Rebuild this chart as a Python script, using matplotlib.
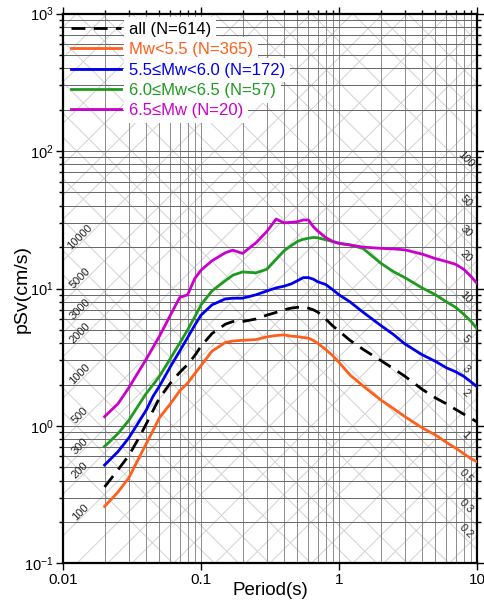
import numpy as np
import matplotlib
matplotlib.use("Agg")
import matplotlib.pyplot as plt
from matplotlib.ticker import LogLocator, NullFormatter, FixedLocator

plt.rcParams['font.family'] = ['Liberation Sans', 'DejaVu Sans']
plt.rcParams['mathtext.fontset'] = 'custom'
plt.rcParams['mathtext.rm'] = 'Liberation Sans'
plt.rcParams['mathtext.it'] = 'Liberation Sans:italic'

# ---------- Data ----------
periods = [0.02, 0.025, 0.03, 0.035, 0.04, 0.045, 0.05, 0.06, 0.07, 0.08, 0.09,
           0.1, 0.12, 0.15, 0.17, 0.2, 0.25, 0.3, 0.35, 0.4, 0.45, 0.5, 0.55,
           0.6, 0.65, 0.7, 0.8, 0.9, 1.0, 1.2, 1.5, 2, 2.5, 3, 4, 5, 6, 7, 8, 9, 10]

psv_all = [0.36, 0.48, 0.61, 0.8, 1.03, 1.3, 1.6, 2.05, 2.45, 2.8, 3.25,
           3.8, 4.7, 5.5, 5.75, 5.75, 6.0, 6.4, 6.7, 7.0, 7.2, 7.3, 7.3,
           7.2, 7.0, 6.75, 6.0, 5.35, 4.9, 4.2, 3.6, 3.0, 2.6, 2.3, 1.85, 1.6,
           1.45, 1.32, 1.22, 1.14, 1.07]
psv_m55 = [0.26, 0.33, 0.42, 0.57, 0.74, 0.93, 1.15, 1.45, 1.8, 2.05, 2.4,
           2.75, 3.5, 4.05, 4.15, 4.2, 4.25, 4.45, 4.55, 4.6, 4.5, 4.47, 4.4,
           4.35, 4.2, 4.0, 3.6, 3.25, 2.9, 2.35, 1.95, 1.55, 1.33, 1.17, 0.97,
           0.86, 0.76, 0.69, 0.63, 0.58, 0.55]
psv_m60 = [0.52, 0.65, 0.82, 1.05, 1.3, 1.65, 1.95, 2.7, 3.5, 4.4, 5.4,
           6.4, 7.6, 8.4, 8.5, 8.5, 9.0, 9.6, 10.1, 10.4, 10.8, 11.4, 12.0,
           12.0, 11.7, 11.2, 10.7, 9.8, 9.0, 8.0, 6.7, 5.4, 4.6, 3.95, 3.3,
           2.95, 2.65, 2.48, 2.3, 2.1, 1.93]
psv_m65 = [0.71, 0.88, 1.1, 1.4, 1.72, 2.0, 2.3, 3.1, 4.0, 5.0, 6.2,
           7.6, 9.6, 11.4, 12.5, 13.2, 13.0, 13.8, 16.3, 18.8, 20.5, 22.0, 22.8,
           23.2, 23.5, 23.4, 22.6, 22.0, 21.3, 20.8, 19.5, 15.3, 13.2, 12.0,
           10.1, 9.0, 8.0, 7.3, 6.5, 5.8, 5.1]
psv_big = [1.17, 1.45, 1.9, 2.45, 3.05, 3.75, 4.5, 6.4, 8.6, 9.0, 11.8,
           13.6, 15.9, 18.2, 19.0, 18.0, 21.5, 26.0, 32.0, 30.0, 30.3, 30.6, 31.5,
           31.5, 28.2, 26.2, 23.5, 22.0, 21.3, 20.7, 20.0, 19.6, 19.4, 19.1,
           17.8, 16.5, 15.7, 15.0, 13.8, 12.3, 10.9]

labels = ["all (N=614)", "Mw<5.5 (N=365)", "5.5\u2264Mw<6.0 (N=172)",
          "6.0\u2264Mw<6.5 (N=57)", "6.5\u2264Mw (N=20)"]
colors = ["black", "#ff5f1a", "#0000ee", "#1e9a1e", "#cc00cc"]

acc_labels = [100, 200, 300, 500, 1000, 2000, 3000, 5000, 10000]     # cm/s^2
disp_labels = [0.2, 0.3, 0.5, 1, 2, 3, 5, 10, 20, 30, 50, 100]       # cm
diag_steps = [1, 2, 3, 5]

# ---------- Figure ----------
fig = plt.figure(figsize=(4.84, 6.04), dpi=100)
ax = fig.add_axes([0.1302, 0.0671, 0.8554, 0.9105])
ax.set_xscale("log")
ax.set_yscale("log")
xmin, xmax, ymin, ymax = 0.01, 10, 0.1, 1000
ax.set_xlim(xmin, xmax)
ax.set_ylim(ymin, ymax)

# tripartite diagonals
tt = np.array([xmin, xmax])
for e in range(-3, 7):
    for k in diag_steps:
        val = k * 10.0 ** e
        ax.plot(tt, val * tt / (2 * np.pi), color="#d2d2d2", lw=0.7, zorder=0.4)
        ax.plot(tt, val * 2 * np.pi / tt, color="#d2d2d2", lw=0.7, zorder=0.4)

# grid
ax.grid(True, which="both", axis="x", color="#8c8c8c", lw=0.7, zorder=0.5)
ax.grid(True, which="both", axis="y", color="#666666", lw=0.7, zorder=0.5)
ax.set_axisbelow(True)

# diagonal labels
t_acc = 0.0133
for a in acc_labels:
    ax.text(t_acc, a * t_acc / (2 * np.pi) * 1.12, str(a), rotation=45,
            ha="center", va="center", fontsize=8, color="#222222", zorder=1)
t_disp = 8.3
for d in disp_labels:
    ax.text(t_disp, d * 2 * np.pi / t_disp * 1.14, f"{d:g}", rotation=-45,
            ha="center", va="center", fontsize=8, color="#222222", zorder=1)

# curves
series = [psv_all, psv_m55, psv_m60, psv_m65, psv_big]
for i, (vals, lab, col) in enumerate(zip(series, labels, colors)):
    if i == 0:
        ax.plot(periods, vals, color=col, lw=2.0, dashes=(5, 3), label=lab, zorder=3)
    else:
        ax.plot(periods, vals, color=col, lw=2.0, label=lab, zorder=3)

# ---------- Axes styling ----------
for s in ax.spines.values():
    s.set_linewidth(1.6)
ax.xaxis.set_major_locator(FixedLocator([0.01, 0.1, 1, 10]))
ax.set_xticklabels(["0.01", "0.1", "1", "10"])
ax.xaxis.set_minor_locator(LogLocator(base=10, subs=np.arange(2, 10)))
ax.xaxis.set_minor_formatter(NullFormatter())
ax.yaxis.set_major_locator(FixedLocator([0.1, 1, 10, 100, 1000]))
ax.set_yticklabels([r"$10^{-1}$", r"$10^{0}$", r"$10^{1}$", r"$10^{2}$", r"$10^{3}$"])
ax.yaxis.set_minor_locator(LogLocator(base=10, subs=np.arange(2, 10)))
ax.yaxis.set_minor_formatter(NullFormatter())
ax.tick_params(which="both", direction="out", top=True, right=True,
               width=1.0, color="black")
ax.tick_params(axis="x", labelsize=11, pad=2)
ax.tick_params(axis="y", labelsize=10.5, pad=2)
ax.tick_params(which="major", length=5)
ax.tick_params(which="minor", length=3, bottom=False)

ax.set_xlabel("Period(s)", fontsize=13.5)
ax.set_ylabel("pSv(cm/s)", fontsize=14)
ax.xaxis.set_label_coords(0.5, -0.049)
ax.yaxis.set_label_coords(-0.099, 0.5)
ax.xaxis.label.set_va("center")
ax.yaxis.label.set_va("center")

# ---------- Legend ----------
leg = ax.legend(loc="upper left", fontsize=12, frameon=False, handlelength=3.0,
                handletextpad=0.45, labelspacing=0.32, borderaxespad=0.2, borderpad=0.3)
leg.set_zorder(5)
for txt, col in zip(leg.get_texts(), colors):
    txt.set_color(col)
    txt.set_bbox(dict(facecolor="white", edgecolor="none", pad=3.5))

fig.savefig("out.png", dpi=100, facecolor="white")
